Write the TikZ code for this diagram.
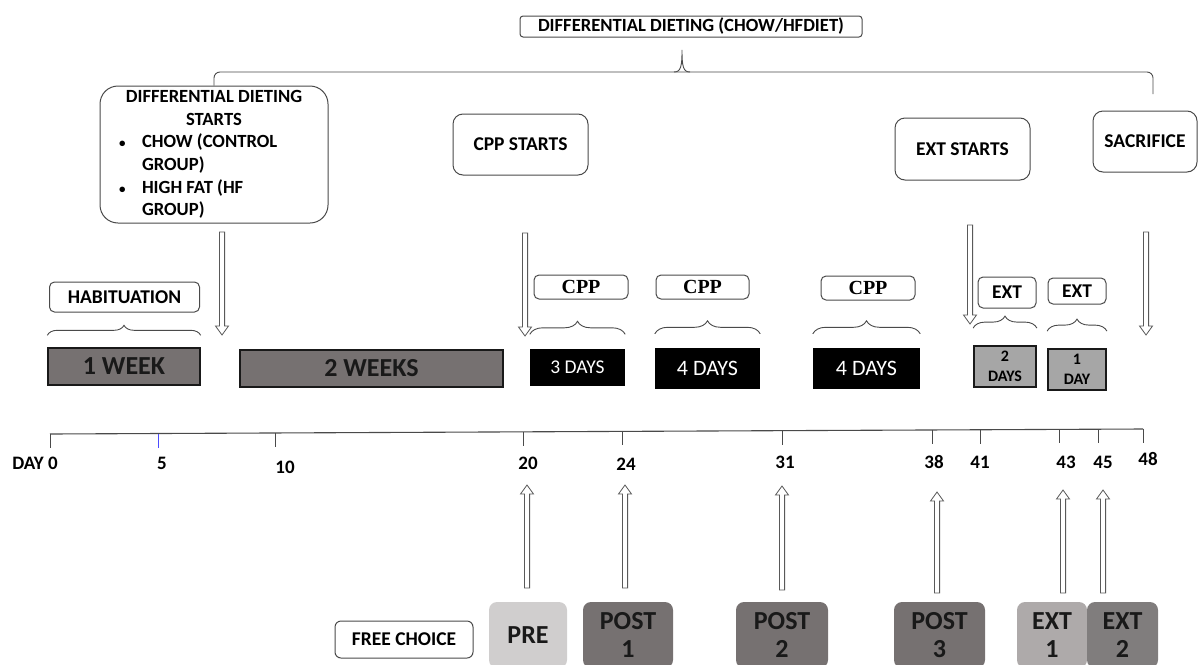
\documentclass[tikz,border=0pt]{standalone}
\usepackage{fontspec}
\setmainfont{Carlito}
\newfontfamily\cppfont{Liberation Serif}
\usetikzlibrary{calc, decorations.pathreplacing}

\definecolor{weekgray}{HTML}{767171}
\definecolor{extgray}{HTML}{A6A6A6}
\definecolor{pregray}{HTML}{D0CECE}
\definecolor{postgray}{HTML}{767171}
\definecolor{extonegray}{HTML}{AEAAAA}
\definecolor{exttwogray}{HTML}{807D7D}
\definecolor{rimgray}{HTML}{4A4A4A}

\tikzset{
  tag/.style={draw=rimgray, line width=1pt, fill=white, rounded corners=5pt, inner sep=0pt,
    font=\bfseries\fontsize{19.5}{23}\selectfont},
  event/.style={tag, rounded corners=10pt},
  cpplabel/.style={tag, font=\cppfont\bfseries\fontsize{20}{23}\selectfont},
  period/.style={draw=black!90, line width=1.4pt, fill=weekgray, inner sep=0pt, text=black!90,
    font=\bfseries\fontsize{26}{30}\selectfont},
  cppday/.style={fill=black, text=white, inner sep=0pt},
  extday/.style={draw=black!90, line width=1.8pt, fill=extgray, inner sep=0pt, align=center,
    font=\bfseries\fontsize{16}{20}\selectfont},
  test/.style={rounded corners=8pt, inner sep=0pt, align=center, text=black!90,
    font=\bfseries\fontsize{26}{28}\selectfont, minimum height=66pt},
  grp/.style={decorate, decoration={brace, amplitude=12pt}, draw=rimgray, line width=0.9pt},
  rim/.style={draw=rimgray, line width=0.9pt},
  daynum/.style={inner sep=0pt, font=\bfseries\fontsize{19}{22}\selectfont},
  hollow/.style={draw=black!65, fill=white, line width=0.8pt,
    to path={
      ($(\tikztostart)!2.6pt!90:(\tikztotarget)$)
      -- ($(\tikztotarget)!9pt!(\tikztostart)!2.6pt!-90:(\tikztostart)$)
      -- ($(\tikztotarget)!9pt!(\tikztostart)!6.5pt!-90:(\tikztostart)$)
      -- (\tikztotarget)
      -- ($(\tikztotarget)!9pt!(\tikztostart)!6.5pt!90:(\tikztostart)$)
      -- ($(\tikztotarget)!9pt!(\tikztostart)!2.6pt!90:(\tikztostart)$)
      -- ($(\tikztostart)!2.6pt!-90:(\tikztotarget)$)
      -- cycle}},
}
\newcommand\grpdot{\makebox[23pt][l]{\fontsize{13}{13}\selectfont\textbullet}}

\begin{document}
\begin{tikzpicture}[x=1pt, y=-1pt]
\useasboundingbox (0,0) rectangle (1198,664);

% diet span on top
\node[tag, rounded corners=3pt, minimum width=342pt, minimum height=21pt,
  font=\bfseries\fontsize{18.6}{22}\selectfont] (diet) at (691,26.5) {DIFFERENTIAL DIETING (CHOW/HFDIET)};
\node[tag, rounded corners=18pt, minimum width=228pt, minimum height=137pt, align=center,
  font=\bfseries\fontsize{18.6}{22.6}\selectfont] (dds) at (214,154.5)
  {DIFFERENTIAL DIETING\\ STARTS\\
   \makebox[190pt][l]{\grpdot CHOW (CONTROL}\\
   \makebox[190pt][l]{\hspace*{23pt}GROUP)}\\
   \makebox[190pt][l]{\grpdot HIGH FAT (HF}\\
   \makebox[190pt][l]{\hspace*{23pt}GROUP)}};
\coordinate (dietend) at (1153,94);
\draw[rim, rounded corners=6pt] (dds.north) |- (1153,72) -- (dietend);
\draw[rim] (674,72) .. controls (681,72) and (682,66) .. (682,50)
  .. controls (682,66) and (683,72) .. (690,72);

% events
\node[event, minimum width=135pt, minimum height=61pt] (cpps) at (520.5,144.5) {CPP STARTS};
\node[event, minimum width=135pt, minimum height=62pt] (exts) at (962.5,149) {EXT STARTS};
\node[event, minimum width=104pt, minimum height=61pt] (sacr) at (1145,141.5) {SACRIFICE};

% phases
\node[tag, minimum width=150pt, minimum height=30pt] (hab) at (124.5,297) {HABITUATION};
\node[period, minimum width=152pt, minimum height=37pt] (wk1) at (124,366.5) {1 WEEK};
\node[period, minimum width=263pt, minimum height=37pt] (wk2) at (371.5,368.5) {2 WEEKS};

\node[cpplabel, minimum width=94pt, minimum height=24pt] (cpp1) at (581,287) {CPP};
\node[cpplabel, minimum width=93pt, minimum height=24pt] (cpp2) at (702.5,287) {CPP};
\node[cpplabel, minimum width=94pt, minimum height=24pt] (cpp3) at (868,288) {CPP};
\node[tag, minimum width=58pt, minimum height=31pt] (ext1) at (1007,292.5) {EXT};
\node[tag, minimum width=58pt, minimum height=26pt] (ext2) at (1077,291) {EXT};

\node[cppday, minimum width=95pt, minimum height=37pt, font=\fontsize{19.5}{22}\selectfont] (d3) at (577.5,367) {3 DAYS};
\node[cppday, minimum width=105pt, minimum height=41pt, font=\fontsize{22}{25}\selectfont] (d4a) at (707.5,368.5) {4 DAYS};
\node[cppday, minimum width=107pt, minimum height=41pt, font=\fontsize{22}{25}\selectfont] (d4b) at (866.5,368.5) {4 DAYS};
\node[extday, minimum width=62pt, minimum height=41pt] (d2) at (1005,366.5) {2\\DAYS};
\node[extday, minimum width=58pt, minimum height=41pt] (d1) at (1077,369.5) {1\\DAY};

\foreach \b/\s/\a in {wk1/12/10, d3/14/13, d4a/14/13, d4b/14/13, d2/17/12, d1/17/12}
  \draw[grp, decoration={amplitude=\a pt}] ([yshift=\s pt]\b.north west) -- ([yshift=\s pt]\b.north east);

% arrows down
\foreach \x/\ya/\yb [count=\i] in {222/232/335, 525/233/336, 970/225/324, 1146/232/335}{
  \coordinate (ds\i) at (\x,\ya);
  \coordinate (dt\i) at (\x,\yb);
  \draw[hollow] (ds\i) to (dt\i);
}

% time line
\coordinate (t0) at (50,434);
\coordinate (t1) at (1143,429);
\draw[draw=rimgray, line width=1.1pt] (t0) -- (t1);
\foreach \x/\lx/\ly/\t/\c in {50/35/463/DAY 0/rimgray, 159/162/463/5/blue!70, 276/285/467/10/rimgray,
    524/528/463/20/rimgray, 623/626/464/24/rimgray, 782/785/462/31/rimgray, 932/934/462/38/rimgray,
    980/980/462/41/rimgray, 1059/1066/462/43/rimgray, 1098/1103/462/45/rimgray, 1143/1148/459/48/rimgray}{
  \draw[draw=\c, line width=1pt] ($(t0)!{(\x-50)/1093}!(t1)$) -- ++(0,14);
  \node[daynum] (n\x) at (\lx,\ly) {\t};
}

% free choice tests
\node[tag, rounded corners=6pt, minimum width=138pt, minimum height=37pt] (free) at (404,639.5) {FREE CHOICE};
\node[test, fill=pregray, minimum width=78pt] (pre) at (528,635) {PRE};
\node[test, fill=postgray, minimum width=90pt] (post1) at (628,635) {POST\\1};
\node[test, fill=postgray, minimum width=92pt] (post2) at (782,635) {POST\\2};
\node[test, fill=postgray, minimum width=91pt] (post3) at (939.5,635) {POST\\3};
\node[test, fill=extonegray, minimum width=70pt] (xt1) at (1052,635) {EXT\\1};
\node[test, fill=exttwogray, minimum width=71pt] (xt2) at (1122.5,635) {EXT\\2};

% arrows up
\foreach \x/\ya/\yb [count=\i] in {527/588/485, 625/588/485, 782/590/486, 937/593/492, 1063/593/490, 1103/593/490}{
  \coordinate (us\i) at (\x,\ya);
  \coordinate (ut\i) at (\x,\yb);
  \draw[hollow] (us\i) to (ut\i);
}
\end{tikzpicture}
\end{document}
